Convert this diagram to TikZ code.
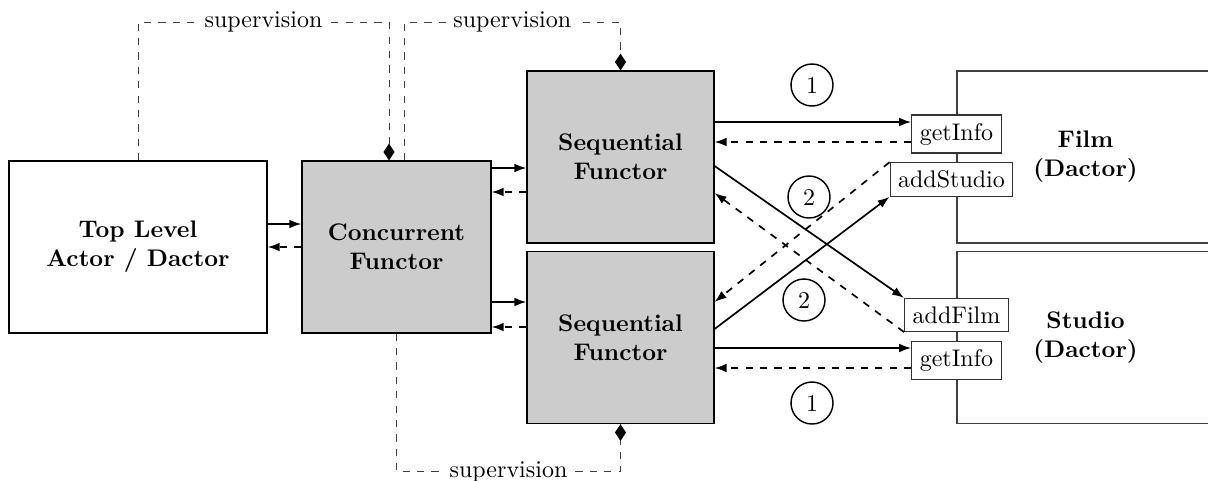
\documentclass[tikz,border=0pt]{standalone}
\usetikzlibrary{arrows.meta,calc}
\begin{document}
\begin{tikzpicture}[x=0.41667pt,y=-0.41667pt,
 box/.style={draw=black, line width=0.5pt, minimum height=71.67pt, align=center, font=\bfseries, inner sep=0pt},
 func/.style={box, fill=gray!40},
 dactor/.style={box, draw=black!75, minimum width=107.1pt},
 port/.style={draw=black!80, fill=white, line width=0.5pt},
 num/.style={circle, draw, line width=0.6pt, minimum size=17.5pt, inner sep=0pt},
 msg/.style={line width=0.7pt, -{Latex[length=5pt,width=3.6pt]}},
 reply/.style={msg, dashed},
 sup/.style={draw=black!75, line width=0.4pt, dashed, -{Diamond[length=7pt,width=4.6pt,color=black]}},
 suplbl/.style={fill=white, inner sep=2pt, text=black}]
\useasboundingbox (0,0) rectangle (1208,480);
\clip (0,0) rectangle (1208,480);

% boxes
\node[box, minimum width=107.5pt] (top) at (138,247) {Top Level\\Actor / Dactor};
\node[func, minimum width=78.75pt] (conc) at (396.5,247) {Concurrent\\Functor};
\node[func, minimum width=77.9pt] (s1) at (620.5,157) {Sequential\\Functor};
\node[func, minimum width=77.9pt] (s2) at (620.5,337.5) {Sequential\\Functor};
\node[dactor] (film) at (1085.5,157) {Film\\(Dactor)};
\node[dactor] (studio) at (1085.5,337.5) {Studio\\(Dactor)};

% ports
\node[port] (gi1) at (956.5,134) {getInfo};
\node[port] (as) at (951.5,179.5) {addStudio};
\node[port] (af) at (956.5,315) {addFilm};
\node[port] (gi2) at (956.5,360.5) {getInfo};

% left arrows
\draw[msg] ($(top.east)+(0,-23)$) -- ($(conc.west)+(0,-23)$);
\draw[reply] (conc.west) -- (top.east);
\draw[msg] ($(conc.east)+(0,-79)$) -- ($(s1.west)+(0,11)$);
\draw[reply] ($(s1.west)+(0,35)$) -- ($(conc.east)+(0,-55)$);
\draw[msg] ($(conc.east)+(0,55)$) -- ($(s2.west)+(0,-35.5)$);
\draw[reply] ($(s2.west)+(0,-10.5)$) -- ($(conc.east)+(0,80)$);

% right arrows
\draw[msg] ($(s1.east)+(0,-35)$) -- ($(gi1.west)+(0,-12)$);
\draw[reply] ($(gi1.west)+(0,8)$) -- ($(s1.east)+(0,-15)$);
\draw[msg] ($(s2.east)+(0,10.5)$) -- ($(gi2.west)+(0,-12.5)$);
\draw[reply] ($(gi2.west)+(0,7.5)$) -- ($(s2.east)+(0,30.5)$);

\draw[msg] ($(s1.east)+(0,9)$) -- (af.north west);
\draw[msg] ($(s2.east)+(0,-8.5)$) -- (as.south west);
\draw[reply] (as.north west) -- ($(s2.east)+(0,-35.5)$);
\draw[reply] (af.south west) -- ($(s1.east)+(0,36)$);

% step numbers
\node[num] (n1a) at (812,85) {1};
\node[num] (n2a) at (809,197) {2};
\node[num] (n2b) at (804,300) {2};
\node[num] (n1b) at (812,403) {1};

% supervision
\draw[sup] (top.north) -- ++(0,-138) -| node[pos=0.25, suplbl]{supervision} ($(conc.north)+(-7.5,0)$);
\draw[sup] ($(conc.north)+(7.5,0)$) -- ++(0,-138) -| node[pos=0.25, suplbl]{supervision} (s1.north);
\draw[sup] (conc.south) -- ++(0,138) -| node[pos=0.25, suplbl]{supervision} (s2.south);
\end{tikzpicture}
\end{document}
